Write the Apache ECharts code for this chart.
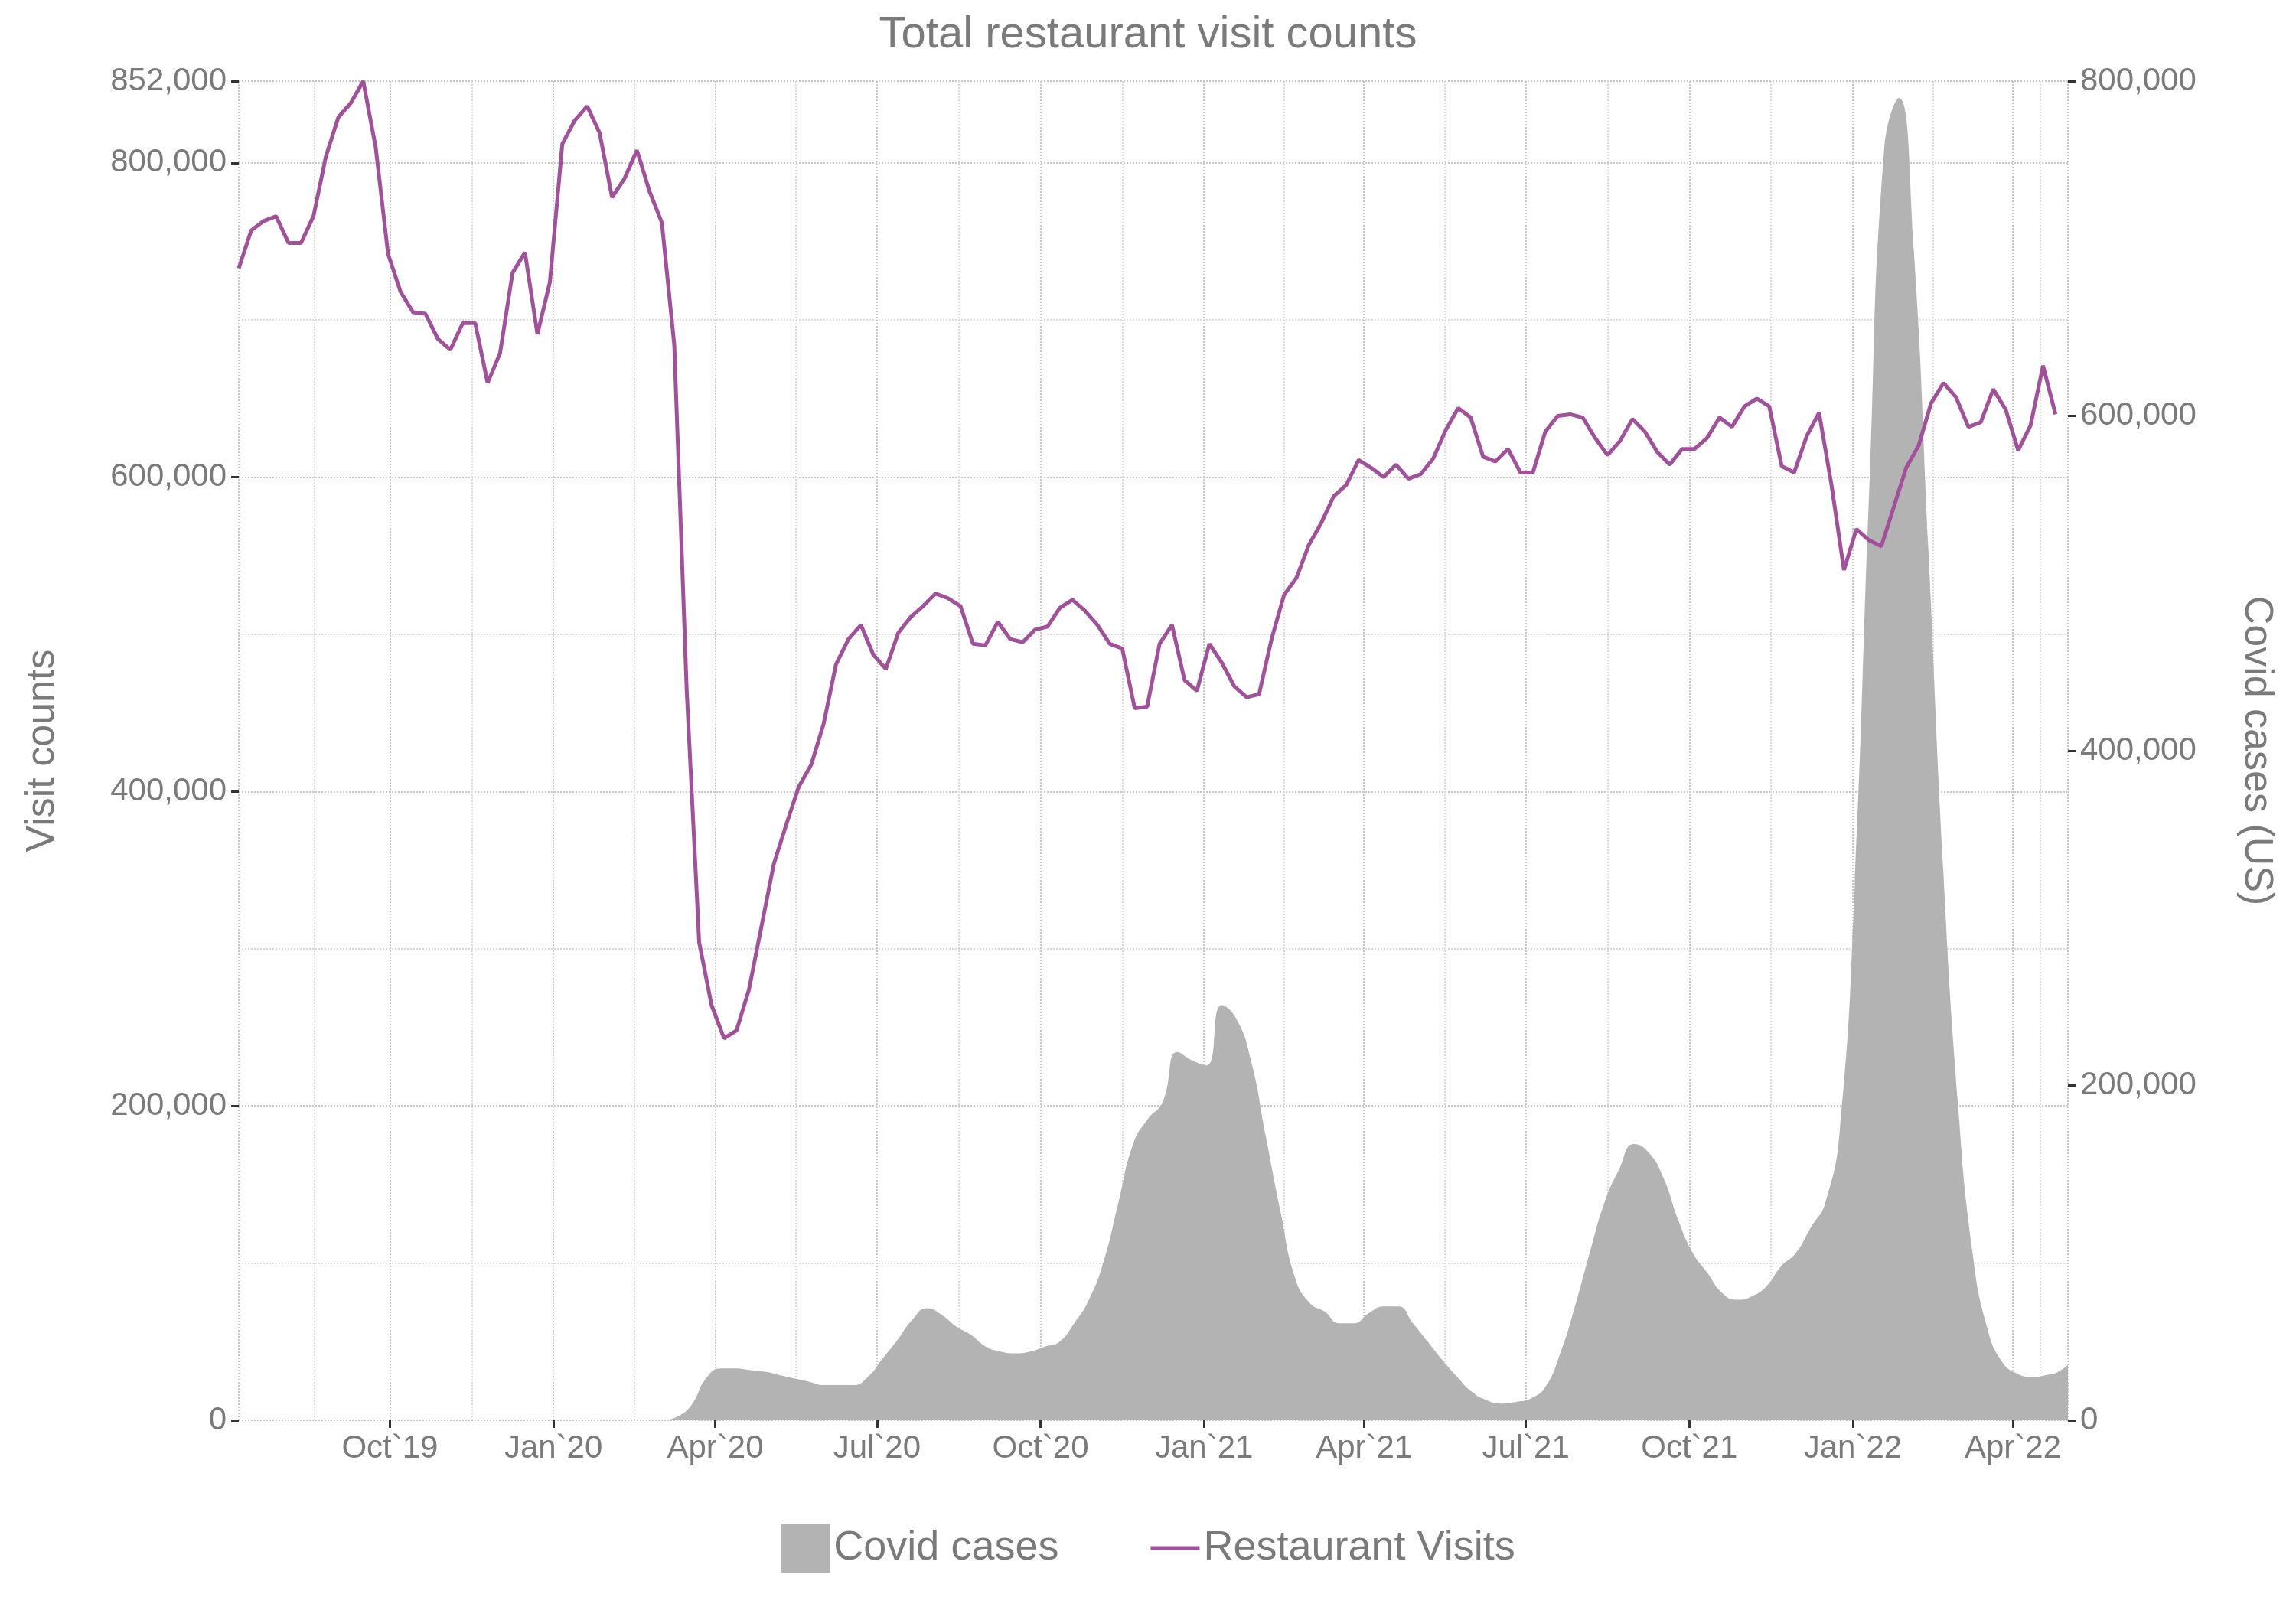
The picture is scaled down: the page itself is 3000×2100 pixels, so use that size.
<!DOCTYPE html>
<html>
<head>
<meta charset="utf-8">
<script src="https://cdn.jsdelivr.net/npm/echarts@6/dist/echarts.min.js"></script>
<style>html,body{margin:0;padding:0;background:#fff}#chart{width:3000px;height:2100px}</style>
</head>
<body>
<div id="chart"></div>
<script>
// weekly restaurant visits, starting 2019-07-08
var visitStart = '2019-07-08';
var visits = [733000,757000,763000,766000,749000,749000,766000,804000,829000,838000,852000,810000,742000,718000,705000,704000,688000,681000,698000,698000,660000,679000,730000,743000,691000,724000,812000,827000,836000,819000,778000,790000,808000,782000,762000,684000,464000,304000,264000,243000,248000,274000,314000,354000,379000,403000,417000,443000,481000,497000,506000,487000,478000,501000,511000,518000,526000,523000,518000,494000,493000,508000,497000,495000,503000,505000,517000,522000,515000,506000,494000,491000,453000,454000,494000,506000,471000,464000,494000,482000,467000,460000,462000,497000,525000,536000,557000,571000,588000,595000,611000,606000,600000,608000,599000,602000,612000,630000,644000,638000,613000,610000,618000,603000,603000,629000,639000,640000,638000,625000,614000,623000,637000,629000,616000,608000,618000,618000,625000,638000,632000,645000,650000,645000,607000,603000,626000,641000,595000,541000,567000,560000,556000,581000,606000,620000,647000,660000,651000,632000,635000,656000,643000,617000,633000,671000,640000];
// covid cases (US), sampled every ~8.3 days starting 2020-03-02
var covidStart = '2020-03-02';
var covidStepDays = 8.285;
var covid = [0,2000,9000,25000,31000,31000,30000,29000,27000,25000,23000,21000,21000,21000,26000,37000,48000,60000,67000,63000,56000,51000,44000,41000,40000,41000,44000,47000,58000,72000,95000,130000,165000,180000,190000,220000,215000,212000,248000,240000,215000,170000,125000,85000,70000,65000,58000,58000,64000,68000,68000,58000,47000,36000,26000,17000,12000,10000,11000,13000,20000,40000,68000,100000,130000,150000,165000,160000,145000,120000,100000,88000,76000,72000,74000,80000,92000,100000,115000,130000,175000,320000,560000,760000,790000,700000,520000,330000,190000,100000,55000,35000,28000,26000,27000,30000,38000,48000,55000];
var monthNames = ['Jan','Feb','Mar','Apr','May','Jun','Jul','Aug','Sep','Oct','Nov','Dec'];

var DAY = 86400000;
var visitData = visits.map(function(v, i){ return [new Date(visitStart).getTime() + i*7*DAY, v]; });
var covidData = covid.map(function(v, i){ return [new Date(covidStart).getTime() + Math.round(i*covidStepDays*DAY), v]; });

var grey = '#7a7a7a';
var chart = echarts.init(document.getElementById('chart'));
chart.setOption({
  animation: false,
  title: {text: 'Total restaurant visit counts', left: 'center', top: 12,
    textStyle: {color: grey, fontSize: 58, fontWeight: 'normal', fontFamily: 'Liberation Sans'}},
  grid: {left: 312, right: 298, top: 106, bottom: 244},
  legend: {
    bottom: 40, left: 'center', itemGap: 120, itemWidth: 64, itemHeight: 64,
    textStyle: {color: grey, fontSize: 54, fontFamily: 'Liberation Sans'},
    data: [
      {name: 'Covid cases', icon: 'rect'},
      {name: 'Restaurant Visits', icon: 'path://M0,30 L64,30 L64,35 L0,35 Z'}
    ]
  },
  xAxis: {
    type: 'time',
    min: new Date('2019-07-08').getTime(),
    max: new Date('2022-05-02').getTime(),
    minInterval: 89*DAY, maxInterval: 92*DAY,
    axisLine: {show: false},
    axisTick: {show: true, length: 10, lineStyle: {color: '#333', width: 3}},
    axisLabel: {color: grey, fontSize: 42, fontFamily: 'Liberation Sans', margin: 16,
      formatter: function(v){ var d = new Date(v); return monthNames[d.getMonth()] + '`' + String(d.getFullYear()).slice(2); }},
    splitLine: {show: true, lineStyle: {color: '#c8c8c8', type: 'dotted', width: 2}},
    minorTick: {show: false, splitNumber: 2},
    minorSplitLine: {show: true, lineStyle: {color: '#dcdcdc', type: 'dotted', width: 2}}
  },
  yAxis: [{
    type: 'value', min: 0, max: 852000, interval: 200000,
    name: 'Visit counts', nameLocation: 'middle', nameGap: 230,
    nameTextStyle: {color: grey, fontSize: 52, fontFamily: 'Liberation Sans'},
    axisLine: {show: false},
    axisTick: {show: true, length: 10, lineStyle: {color: '#333', width: 3}},
    axisLabel: {color: grey, fontSize: 42, fontFamily: 'Liberation Sans', margin: 16,
      formatter: function(v){ return v.toLocaleString('en-US'); }},
    splitLine: {lineStyle: {color: '#c8c8c8', type: 'dotted', width: 2}},
    minorTick: {show: false, splitNumber: 2},
    minorSplitLine: {show: true, lineStyle: {color: '#dcdcdc', type: 'dotted', width: 2}}
  }, {
    type: 'value', min: 0, max: 800000, interval: 200000,
    name: 'Covid cases (US)', nameLocation: 'middle', nameGap: 220, nameRotate: -90,
    nameTextStyle: {color: grey, fontSize: 52, fontFamily: 'Liberation Sans'},
    axisLine: {show: false},
    axisTick: {show: true, length: 10, lineStyle: {color: '#333', width: 3}},
    axisLabel: {color: grey, fontSize: 42, fontFamily: 'Liberation Sans', margin: 16,
      formatter: function(v){ return v.toLocaleString('en-US'); }},
    splitLine: {show: false}
  }],
  series: [{
    name: 'Covid cases', type: 'line', yAxisIndex: 1, data: covidData,
    smooth: true, symbol: 'none', lineStyle: {width: 0}, color: '#b3b3b3',
    areaStyle: {color: '#b3b3b3', opacity: 1}
  }, {
    name: 'Restaurant Visits', type: 'line', yAxisIndex: 0, data: visitData,
    symbol: 'none', color: '#a0519a', lineStyle: {color: '#a0519a', width: 5}
  }]
});
</script>
</body>
</html>
